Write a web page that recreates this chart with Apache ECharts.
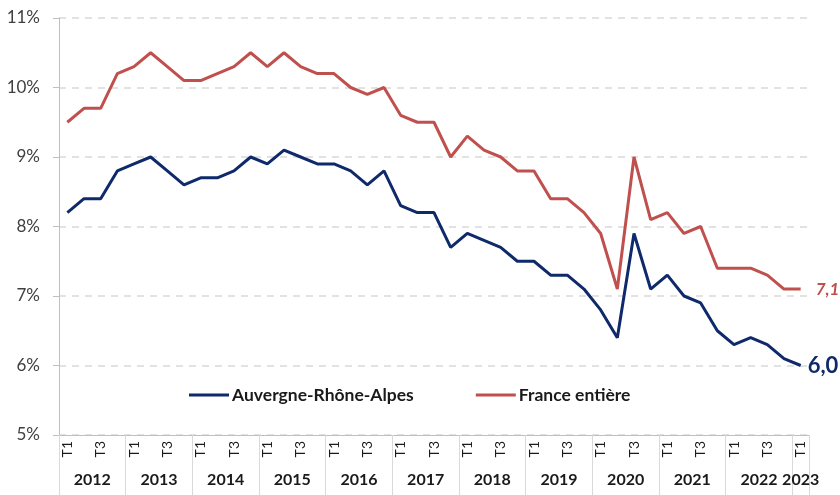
<!DOCTYPE html>
<html>
<head>
<meta charset="utf-8">
<script src="https://cdn.jsdelivr.net/npm/echarts@6/dist/echarts.min.js"></script>
<style>
  html, body { margin: 0; padding: 0; background: #fff; }
  #chart { width: 840px; height: 495px; }
</style>
</head>
<body>
<div id="chart"></div>
<script>
// années et nombre de trimestres par année
var years = ['2012', '2013', '2014', '2015', '2016', '2017', '2018', '2019', '2020', '2021', '2022', '2023'];
var quartersPerYear = [4, 4, 4, 4, 4, 4, 4, 4, 4, 4, 4, 1];
var quarterNames = ['T1', 'T2', 'T3', 'T4'];

// taux de chômage (%)
var auvergne = [8.2, 8.4, 8.4, 8.8, 8.9, 9.0, 8.8, 8.6, 8.7, 8.7, 8.8, 9.0, 8.9, 9.1, 9.0, 8.9,
    8.9, 8.8, 8.6, 8.8, 8.3, 8.2, 8.2, 7.7, 7.9, 7.8, 7.7, 7.5, 7.5, 7.3, 7.3, 7.1,
    6.8, 6.4, 7.9, 7.1, 7.3, 7.0, 6.9, 6.5, 6.3, 6.4, 6.3, 6.1, 6.0];
var france = [9.5, 9.7, 9.7, 10.2, 10.3, 10.5, 10.3, 10.1, 10.1, 10.2, 10.3, 10.5, 10.3, 10.5, 10.3, 10.2,
    10.2, 10.0, 9.9, 10.0, 9.6, 9.5, 9.5, 9.0, 9.3, 9.1, 9.0, 8.8, 8.8, 8.4, 8.4, 8.2,
    7.9, 7.1, 9.0, 8.1, 8.2, 7.9, 8.0, 7.4, 7.4, 7.4, 7.3, 7.1, 7.1];

var categories = [];
var yearStarts = [];
var yearCenters = [];
for (var y = 0; y < years.length; y++) {
    yearStarts.push(categories.length);
    yearCenters.push(categories.length + quartersPerYear[y] / 2);
    for (var q = 0; q < quartersPerYear[y]; q++) {
        categories.push(years[y] + ' ' + quarterNames[q]);
    }
}
yearStarts.push(categories.length);

var font = 'Lato, "Liberation Sans", sans-serif';
var gridColor = '#d9d9d9';

var chart = echarts.init(document.getElementById('chart'));
var option = {
    animation: false,
    textStyle: {fontFamily: font},
    grid: {left: 59, right: 31, top: 18, bottom: 60},
    legend: {
        left: 189,
        top: 386,
        padding: 0,
        itemWidth: 40,
        itemHeight: 3,
        itemGap: 62,
        icon: 'rect',
        textStyle: {fontSize: 17.5, fontWeight: 'bold', color: '#1a1a1a', fontFamily: font, padding: [0, 0, 0, -2]},
        data: ['Auvergne-Rhône-Alpes', 'France entière']
    },
    xAxis: [
        {
            type: 'category',
            data: categories,
            boundaryGap: true,
            axisLine: {lineStyle: {color: '#bfbfbf', width: 1}},
            axisTick: {interval: 0, length: 28, lineStyle: {color: gridColor}},
            axisLabel: {
                interval: 0,
                rotate: 90,
                margin: 6,
                fontSize: 14,
                color: '#1a1a1a',
                formatter: function (v, i) {
                    var t = v.split(' ')[1];
                    return (t === 'T1' || t === 'T3') ? t : '';
                }
            }
        },
        {
            type: 'value',
            min: 0,
            max: categories.length,
            position: 'bottom',
            axisLine: {show: false},
            splitLine: {show: false},
            axisTick: {show: true, customValues: yearStarts, length: 60, lineStyle: {color: gridColor}},
            axisLabel: {
                customValues: yearCenters,
                margin: 37,
                fontSize: 16,
                fontWeight: 'bold',
                color: '#1a1a1a',
                formatter: function (v) {
                    return years[yearCenters.indexOf(v)];
                }
            }
        }
    ],
    yAxis: {
        type: 'value',
        min: 5,
        max: 11,
        interval: 1,
        axisLine: {show: true, lineStyle: {color: '#bfbfbf'}},
        axisTick: {show: true, length: 6, lineStyle: {color: '#bfbfbf'}},
        axisLabel: {formatter: '{value}%', fontSize: 17, color: '#404040', margin: 19},
        splitLine: {lineStyle: {color: gridColor, type: [7, 6], width: 1.5}}
    },
    series: [
        {
            name: 'Auvergne-Rhône-Alpes',
            type: 'line',
            data: auvergne,
            symbol: 'none',
            color: '#0f2a6b',
            lineStyle: {width: 3},
            endLabel: {
                show: true,
                distance: 7,
                color: '#0f2a6b',
                fontSize: 22,
                fontWeight: 'bold',
                formatter: function (p) { return p.value.toFixed(1).replace('.', ','); }
            }
        },
        {
            name: 'France entière',
            type: 'line',
            data: france,
            symbol: 'none',
            color: '#c0504d',
            lineStyle: {width: 3},
            endLabel: {
                show: true,
                distance: 15,
                color: '#c0504d',
                fontSize: 17,
                fontWeight: 'bold',
                fontStyle: 'italic',
                formatter: function (p) { return p.value.toFixed(1).replace('.', ','); }
            }
        }
    ]
};
chart.setOption(option);
</script>
</body>
</html>
